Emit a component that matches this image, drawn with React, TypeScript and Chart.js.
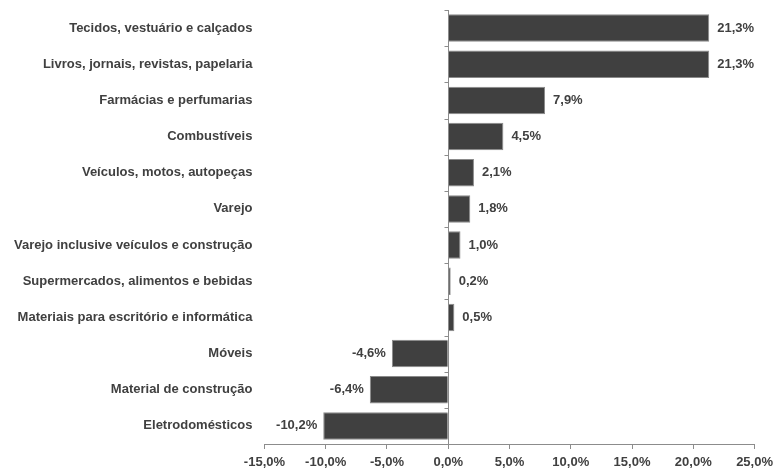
import React, { useEffect, useRef } from "react";
import { Chart, registerables } from "chart.js";

Chart.register(...registerables);

const categories = [
  "Tecidos, vestuário e calçados",
  "Livros, jornais, revistas, papelaria",
  "Farmácias e perfumarias",
  "Combustíveis",
  "Veículos, motos, autopeças",
  "Varejo",
  "Varejo inclusive veículos e construção",
  "Supermercados, alimentos e bebidas",
  "Materiais para escritório e informática",
  "Móveis",
  "Material de construção",
  "Eletrodomésticos",
];
const values = [21.3, 21.3, 7.9, 4.5, 2.1, 1.8, 1.0, 0.2, 0.5, -4.6, -6.4, -10.2];
const xMin = -15;
const xMax = 25;
const xStep = 5;

const TEXT = "#404040";
const FONT = "'Liberation Sans', Arial, sans-serif";

const fmt = (v: number, d: number) => v.toFixed(d).replace(".", ",") + "%";

const zeroLinePlugin = {
  id: "zeroLine",
  afterDatasetsDraw(chart: any) {
    const { ctx, chartArea, scales } = chart;
    const x0 = Math.round(scales.x.getPixelForValue(0)) + 0.5;
    ctx.save();
    ctx.strokeStyle = "#8c8c8c";
    ctx.lineWidth = 1;
    ctx.beginPath();
    ctx.moveTo(x0, chartArea.top);
    ctx.lineTo(x0, chartArea.bottom);
    const n = categories.length;
    const band = (chartArea.bottom - chartArea.top) / n;
    for (let i = 0; i <= n; i++) {
      const yy = Math.round(chartArea.top + i * band) + 0.5;
      ctx.moveTo(x0 - 4, yy);
      ctx.lineTo(x0, yy);
    }
    ctx.stroke();
    ctx.restore();
  },
};

const labelPlugin = {
  id: "barLabels",
  afterDatasetsDraw(chart: any) {
    const { ctx } = chart;
    const meta = chart.getDatasetMeta(0);
    ctx.save();
    ctx.font = `bold 13px ${FONT}`;
    ctx.fillStyle = TEXT;
    ctx.textBaseline = "middle";
    meta.data.forEach((bar: any, i: number) => {
      const v = values[i];
      const txt = fmt(v, 1);
      if (v >= 0) {
        ctx.textAlign = "left";
        ctx.fillText(txt, bar.x + 8, bar.y);
      } else {
        ctx.textAlign = "right";
        ctx.fillText(txt, bar.x - 6, bar.y);
      }
    });
    ctx.restore();
  },
};

export default function App() {
  const ref = useRef<HTMLCanvasElement>(null);
  useEffect(() => {
    document.body.style.margin = "0";
    const chart = new Chart(ref.current!, {
      type: "bar",
      data: {
        labels: categories,
        datasets: [
          {
            data: values,
            backgroundColor: "#404040",
            borderColor: "#8a8a8a",
            borderWidth: 1,
            barPercentage: 0.76,
            categoryPercentage: 1,
          },
        ],
      },
      options: {
        indexAxis: "y",
        animation: false,
        responsive: false,
        maintainAspectRatio: false,
        layout: { padding: { top: 10, right: -3, bottom: 0, left: 14 } },
        plugins: { legend: { display: false }, tooltip: { enabled: false } },
        scales: {
          x: {
            min: xMin,
            max: xMax,
            afterFit: (scale: any) => {
              scale.height = 24;
            },
            ticks: {
              stepSize: xStep,
              color: TEXT,
              font: { family: FONT, size: 13, weight: "bold" },
              padding: 6,
              callback: (v: any) => fmt(Number(v), 1),
              maxRotation: 0,
            },
            grid: { drawOnChartArea: false, drawTicks: true, tickLength: 5, color: "#8c8c8c" },
            border: { display: true, color: "#8c8c8c" },
          },
          y: {
            ticks: {
              color: TEXT,
              font: { family: FONT, size: 13, weight: "bold" },
              padding: 0,
            },
            grid: {
              display: true,
              drawOnChartArea: false,
              drawTicks: true,
              tickLength: 12,
              color: "rgba(0,0,0,0)",
            },
            border: { display: false },
          },
        },
      },
      plugins: [zeroLinePlugin, labelPlugin],
    });
    return () => chart.destroy();
  }, []);
  return <canvas ref={ref} width={779} height={468} style={{ display: "block" }} />;
}
